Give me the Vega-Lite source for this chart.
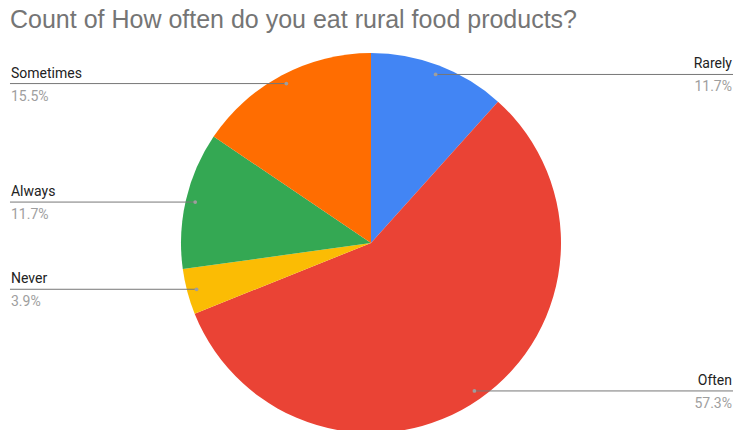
{
  "$schema": "https://vega.github.io/schema/vega-lite/v6.json",
  "autosize": "none",
  "width": 733,
  "height": 374,
  "padding": {"top": 56, "left": 0, "right": 0, "bottom": 0},
  "background": "white",
  "config": {"view": {"stroke": null}, "font": "Roboto"},
  "title": {
    "text": "Count of How often do you eat rural food products?",
    "anchor": "start",
    "fontSize": 25,
    "font": "Liberation Sans",
    "fontWeight": "normal",
    "color": "#757575",
    "offset": 20,
    "dx": 10
  },
  "data": {
    "values": [
      {"Category": "Rarely", "Count": 12},
      {"Category": "Often", "Count": 59},
      {"Category": "Never", "Count": 4},
      {"Category": "Always", "Count": 12},
      {"Category": "Sometimes", "Count": 16}
    ]
  },
  "transform": [
    {"window": [{"op": "row_number", "as": "rank"}]},
    {"joinaggregate": [{"op": "sum", "field": "Count", "as": "total"}]},
    {"window": [{"op": "sum", "field": "Count", "as": "cum"}], "sort": [{"field": "rank"}], "frame": [null, 0]},
    {"calculate": "2*PI*(datum.cum - datum.Count/2)/datum.total", "as": "mid"},
    {"calculate": "0.95*sin(datum.mid)", "as": "ax"},
    {"calculate": "0.95*cos(datum.mid)", "as": "ay"},
    {"calculate": "datum.Count/datum.total", "as": "pct"},
    {"calculate": "datum.ax > 0 ? 'right' : 'left'", "as": "side"},
    {"calculate": "datum.side == 'right' ? 1.90526 : -1.9", "as": "edge"}
  ],
  "layer": [
    {
      "mark": {"type": "arc", "outerRadius": 190},
      "encoding": {
        "theta": {"field": "Count", "type": "quantitative", "stack": true},
        "order": {"field": "rank", "type": "quantitative"},
        "x": {"datum": 0, "type": "quantitative", "scale": {"domain": [-1.95263, 1.90526], "nice": false, "zero": false}, "axis": null},
        "y": {"datum": 0, "type": "quantitative", "scale": {"domain": [-0.98421, 0.98421], "nice": false, "zero": false}, "axis": null},
        "color": {
          "field": "Category",
          "type": "nominal",
          "scale": {"domain": ["Rarely", "Often", "Never", "Always", "Sometimes"], "range": ["#4285F4", "#EA4335", "#FBBC04", "#34A853", "#FF6D01"]},
          "legend": null
        }
      }
    },
    {
      "mark": {"type": "rule", "color": "#777777", "strokeWidth": 1},
      "encoding": {
        "x": {"field": "ax", "type": "quantitative", "scale": {"domain": [-1.95263, 1.90526], "nice": false, "zero": false}, "axis": null},
        "x2": {"field": "edge"},
        "y": {"field": "ay", "type": "quantitative", "scale": {"domain": [-0.98421, 0.98421], "nice": false, "zero": false}, "axis": null}
      }
    },
    {
      "mark": {"type": "point", "filled": true, "color": "#9e9e9e", "size": 14, "opacity": 1},
      "encoding": {
        "x": {"field": "ax", "type": "quantitative"},
        "y": {"field": "ay", "type": "quantitative"}
      }
    },
    {
      "transform": [{"filter": "datum.side == 'left'"}],
      "mark": {"type": "text", "align": "left", "baseline": "middle", "dy": -10, "fontSize": 14, "color": "#222222", "font": "Roboto"},
      "encoding": {
        "x": {"datum": -1.895, "type": "quantitative"},
        "y": {"field": "ay", "type": "quantitative"},
        "text": {"field": "Category"}
      }
    },
    {
      "transform": [{"filter": "datum.side == 'left'"}],
      "mark": {"type": "text", "align": "left", "baseline": "middle", "dy": 13, "fontSize": 14, "color": "#9e9e9e", "font": "Roboto"},
      "encoding": {
        "x": {"datum": -1.895, "type": "quantitative"},
        "y": {"field": "ay", "type": "quantitative"},
        "text": {"field": "pct", "format": ".1%"}
      }
    },
    {
      "transform": [{"filter": "datum.side == 'right'"}],
      "mark": {"type": "text", "align": "right", "baseline": "middle", "dy": -10, "fontSize": 14, "color": "#222222", "font": "Roboto"},
      "encoding": {
        "x": {"datum": 1.9, "type": "quantitative"},
        "y": {"field": "ay", "type": "quantitative"},
        "text": {"field": "Category"}
      }
    },
    {
      "transform": [{"filter": "datum.side == 'right'"}],
      "mark": {"type": "text", "align": "right", "baseline": "middle", "dy": 13, "fontSize": 14, "color": "#9e9e9e", "font": "Roboto"},
      "encoding": {
        "x": {"datum": 1.9, "type": "quantitative"},
        "y": {"field": "ay", "type": "quantitative"},
        "text": {"field": "pct", "format": ".1%"}
      }
    }
  ]
}
